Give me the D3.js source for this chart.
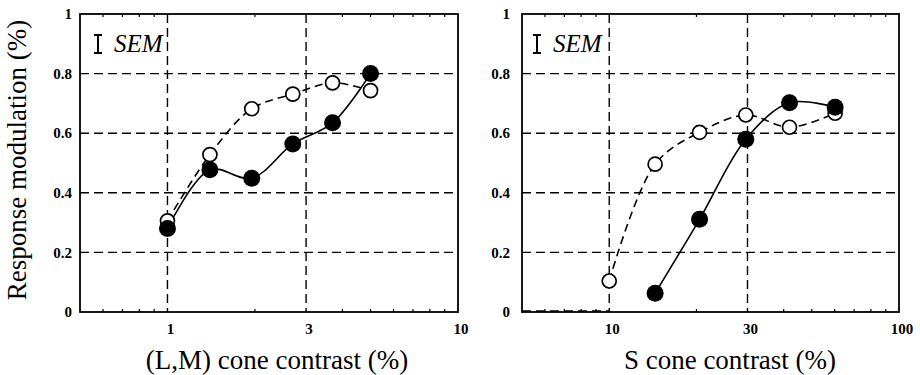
<!DOCTYPE html>
<meta charset="utf-8">
<script src="https://d3js.org/d3.v7.min.js"></script>
<style>
  body { margin: 0; background: #fff; }
  text { font-family: "Liberation Serif", "Times New Roman", serif; fill: #000; }
</style>
<div id="chart"></div>
<script>

// ---- data ----
var lmContrast = [1, 1.4, 1.95, 2.7, 3.7, 5.0];
var lmFilled   = [0.28, 0.477, 0.449, 0.564, 0.635, 0.80];
var lmOpen     = [0.306, 0.528, 0.682, 0.731, 0.769, 0.743];

var sContrast  = [10, 14.4, 20.5, 29.6, 41.9, 60.2];
var sFilled    = [null, 0.063, 0.311, 0.58, 0.702, 0.687];
var sOpen      = [0.104, 0.496, 0.603, 0.661, 0.62, 0.667];

var yTicks = [0, 0.2, 0.4, 0.6, 0.8, 1];
var yGrid = [0.2, 0.4, 0.6, 0.8];

var svg = d3.select("#chart").append("svg")
    .attr("width", 920)
    .attr("height", 375);

function drawPanel(p) {
  var x = d3.scaleLog().domain(p.domain).range([p.left, p.right]);
  var y = d3.scaleLinear().domain([0, 1]).range([312, 14]);
  var g = svg.append("g");

  // dashed grid
  g.selectAll(".hgrid").data(yGrid).enter().append("line")
      .attr("x1", p.left).attr("x2", p.right)
      .attr("y1", function(d) { return y(d); })
      .attr("y2", function(d) { return y(d); })
      .attr("stroke", "#000").attr("stroke-width", 1.4)
      .attr("stroke-dasharray", "9,5");
  g.selectAll(".vgrid").data(p.grid).enter().append("line")
      .attr("x1", function(d) { return x(d); })
      .attr("x2", function(d) { return x(d); })
      .attr("y1", 14).attr("y2", 312)
      .attr("stroke", "#000").attr("stroke-width", 1.4)
      .attr("stroke-dasharray", "9,5");

  // frame
  g.append("rect")
      .attr("x", p.left).attr("y", 14)
      .attr("width", p.right - p.left).attr("height", 298)
      .attr("fill", "none").attr("stroke", "#000").attr("stroke-width", 1.8);

  // minor ticks, inside top and bottom
  g.selectAll(".mtb").data(p.minor).enter().append("line")
      .attr("x1", function(d) { return x(d); })
      .attr("x2", function(d) { return x(d); })
      .attr("y1", 312).attr("y2", 309)
      .attr("stroke", "#000").attr("stroke-width", 1.2);
  g.selectAll(".mtt").data(p.minor).enter().append("line")
      .attr("x1", function(d) { return x(d); })
      .attr("x2", function(d) { return x(d); })
      .attr("y1", 14).attr("y2", 17)
      .attr("stroke", "#000").attr("stroke-width", 1.2);

  // tick labels
  g.selectAll(".xl").data(p.ticks).enter().append("text")
      .attr("x", function(d) { return x(d) + 3; })
      .attr("y", 334)
      .attr("text-anchor", "middle")
      .style("font-size", "15px").style("font-weight", "bold")
      .text(function(d) { return d; });
  g.selectAll(".yl").data(yTicks).enter().append("text")
      .attr("x", p.left - p.labelGap)
      .attr("y", function(d) { return y(d); })
      .attr("dy", "0.35em")
      .attr("text-anchor", "end")
      .style("font-size", "15px").style("font-weight", "bold")
      .text(function(d) { return d; });

  // axis title
  g.append("text")
      .attr("x", p.titleX).attr("y", 369)
      .attr("text-anchor", "middle")
      .style("font-size", "27px")
      .text(p.title);

  // SEM marker
  var bx = p.left + p.semOffset;
  g.append("path")
      .attr("d", "M" + (bx - 4) + ",35H" + (bx + 4) + "M" + bx + ",35V53M" + (bx - 4) + ",53H" + (bx + 4))
      .attr("stroke", "#000").attr("stroke-width", 2).attr("fill", "none");
  g.append("text")
      .attr("x", bx + 16).attr("y", 52)
      .style("font-size", "25px").style("font-style", "italic")
      .text("SEM");

  // curves
  var line = d3.line()
      .x(function(d) { return x(d[0]); })
      .y(function(d) { return y(d[1]); })
      .curve(d3.curveCatmullRom.alpha(0.5));

  var openPts = p.xs.map(function(d, i) { return [d, p.open[i]]; });
  var fillPts = p.xs.map(function(d, i) { return [d, p.filled[i]]; })
      .filter(function(d) { return d[1] != null; });

  if (p.floor) {
    g.append("line")
        .attr("x1", p.left).attr("x2", x(p.xs[0]))
        .attr("y1", y(0) - 1).attr("y2", y(0) - 1)
        .attr("stroke", "#000").attr("stroke-width", 1.6)
        .attr("stroke-dasharray", "9,5");
  }

  g.append("path").datum(openPts)
      .attr("d", line)
      .attr("fill", "none").attr("stroke", "#000").attr("stroke-width", 1.6)
      .attr("stroke-dasharray", "8,5");
  g.append("path").datum(fillPts)
      .attr("d", line)
      .attr("fill", "none").attr("stroke", "#000").attr("stroke-width", 1.6);

  g.selectAll(".open").data(openPts).enter().append("circle")
      .attr("cx", function(d) { return x(d[0]); })
      .attr("cy", function(d) { return y(d[1]); })
      .attr("r", 7)
      .attr("fill", "#fff").attr("stroke", "#000").attr("stroke-width", 1.7);
  g.selectAll(".filled").data(fillPts).enter().append("circle")
      .attr("cx", function(d) { return x(d[0]); })
      .attr("cy", function(d) { return y(d[1]); })
      .attr("r", 8.5)
      .attr("fill", "#000");
}

drawPanel({
  domain: [0.5, 10], left: 80, right: 458,
  grid: [1, 3], ticks: [1, 3, 10],
  minor: [0.6, 0.7, 0.8, 0.9, 2, 4, 5, 6, 7, 8, 9],
  labelGap: 8, titleX: 277, title: "(L,M) cone contrast (%)",
  semOffset: 18,
  xs: lmContrast, open: lmOpen, filled: lmFilled
});

drawPanel({
  domain: [5, 100], left: 522, right: 899,
  grid: [10, 30], ticks: [10, 30, 100],
  minor: [6, 7, 8, 9, 20, 40, 50, 60, 70, 80, 90],
  labelGap: 12, titleX: 730, title: "S cone contrast (%)",
  semOffset: 15, floor: true,
  xs: sContrast, open: sOpen, filled: sFilled
});

// shared y title
svg.append("text")
    .attr("transform", "translate(26,160) rotate(-90)")
    .attr("text-anchor", "middle")
    .style("font-size", "27px")
    .text("Response modulation (%)");

</script>
